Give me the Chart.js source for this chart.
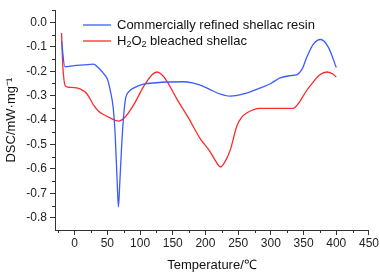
<!DOCTYPE html>
<html>
<head>
<meta charset="utf-8">
<script src="https://cdn.jsdelivr.net/npm/chart.js@4"></script>
<style>
  html, body { margin: 0; padding: 0; background: #fff; }
  #wrap { width: 380px; height: 273px; }
</style>
</head>
<body>
<div id="wrap"><canvas id="dsc" width="380" height="273"></canvas></div>
<script>
// series labels
const seriesNames = ['Commercially refined shellac resin', 'H₂O₂ bleached shellac'];

// commercially refined shellac resin
const tempBlue = [-20, -15, -1, 15, 29, 37, 45, 50, 55, 59, 62, 65, 67, 69, 72, 75, 78, 83, 90, 105, 125, 141, 166, 180, 192, 205, 218, 238, 258, 283, 300, 314, 330, 340, 348, 355, 365, 376, 388, 400];
const dscBlue = [-0.076, -0.181, -0.177, -0.174, -0.171, -0.188, -0.212, -0.232, -0.285, -0.35, -0.46, -0.65, -0.756, -0.66, -0.5, -0.38, -0.31, -0.283, -0.269, -0.253, -0.247, -0.244, -0.243, -0.248, -0.257, -0.272, -0.289, -0.302, -0.293, -0.269, -0.25, -0.227, -0.218, -0.214, -0.19, -0.142, -0.089, -0.07, -0.102, -0.185];

// H2O2 bleached shellac
const tempRed = [-20, -18, -14, -6, 9, 19, 29, 37, 45, 55, 67, 78, 90, 106, 118, 126, 133, 141, 156, 174, 192, 207, 215, 223, 231, 238, 248, 255, 263, 283, 304, 334, 344, 352, 360, 375, 386, 394, 400];
const dscRed = [-0.043, -0.18, -0.26, -0.266, -0.273, -0.293, -0.339, -0.365, -0.378, -0.392, -0.404, -0.385, -0.339, -0.26, -0.215, -0.203, -0.213, -0.24, -0.312, -0.391, -0.476, -0.529, -0.565, -0.592, -0.565, -0.522, -0.424, -0.39, -0.371, -0.352, -0.352, -0.352, -0.325, -0.29, -0.26, -0.214, -0.203, -0.21, -0.224];

// axis ticks
const xTicks = [0, 50, 100, 150, 200, 250, 300, 350, 400, 450];
const yTicks = [-0.8, -0.7, -0.6, -0.5, -0.4, -0.3, -0.2, -0.1, 0.0];

const AXIS = '#333';
const FONT = 'Arial, "Liberation Sans", sans-serif';

const toPoints = (xs, ys) => xs.map((x, i) => ({ x: x, y: ys[i] }));

// small ticks halfway between the labelled ones
const MinorTicks = {
  id: 'minorTicks',
  afterDraw: (chart) => {
    const { ctx, scales } = chart;
    const xs = scales.x, ys = scales.y;
    ctx.save();
    ctx.strokeStyle = AXIS;
    ctx.lineWidth = 1;
    ctx.beginPath();
    for (let v = xs.min + 5; v < xs.max; v += 50) {
      const px = Math.round(xs.getPixelForValue(v)) + 0.5;
      ctx.moveTo(px, ys.bottom);
      ctx.lineTo(px, ys.bottom + 3);
    }
    for (let v = -0.75; v < 0.06; v += 0.1) {
      const py = Math.round(ys.getPixelForValue(v)) + 0.5;
      ctx.moveTo(xs.left, py);
      ctx.lineTo(xs.left - 3, py);
    }
    ctx.stroke();
    ctx.restore();
  }
};

// legend inside the plot, with subscript digits
const InsetLegend = {
  id: 'insetLegend',
  afterDraw: (chart) => {
    const { ctx } = chart;
    const x0 = 83, x1 = 111, tx = 117;
    const rows = [25, 41];
    ctx.save();
    chart.data.datasets.forEach((ds, i) => {
      const y = rows[i];
      ctx.strokeStyle = ds.borderColor;
      ctx.lineWidth = 1.3;
      ctx.beginPath();
      ctx.moveTo(x0, y);
      ctx.lineTo(x1, y);
      ctx.stroke();

      ctx.fillStyle = '#111';
      ctx.textBaseline = 'middle';
      let x = tx;
      for (const ch of ds.label) {
        if (ch === '₂') {
          ctx.font = '9px ' + FONT;
          ctx.fillText('2', x, y + 4);
          x += ctx.measureText('2').width;
        } else {
          ctx.font = '13px ' + FONT;
          ctx.fillText(ch, x, y);
          x += ctx.measureText(ch).width;
        }
      }
    });
    ctx.restore();
  }
};

new Chart(document.getElementById('dsc').getContext('2d'), {
  type: 'line',
  data: {
    datasets: [
      {
        label: seriesNames[0],
        data: toPoints(tempBlue, dscBlue),
        borderColor: '#3b5bff',
        borderWidth: 1.3,
        pointRadius: 0,
        cubicInterpolationMode: 'monotone',
        fill: false
      },
      {
        label: seriesNames[1],
        data: toPoints(tempRed, dscRed),
        borderColor: '#ff2b2b',
        borderWidth: 1.3,
        pointRadius: 0,
        cubicInterpolationMode: 'monotone',
        fill: false
      }
    ]
  },
  options: {
    responsive: false,
    animation: false,
    devicePixelRatio: 1,
    layout: { padding: { top: 1, right: 10, left: 0, bottom: 0 } },
    plugins: {
      legend: { display: false },
      tooltip: { enabled: false }
    },
    scales: {
      x: {
        type: 'linear',
        min: -30,
        max: 450,
        afterBuildTicks: (scale) => { scale.ticks = xTicks.map((v) => ({ value: v })); },
        afterFit: (scale) => { scale.height = 43; },
        grid: { drawOnChartArea: false, tickLength: 5, color: AXIS, tickColor: AXIS },
        border: { display: true, color: AXIS, width: 1 },
        ticks: {
          color: '#222',
          font: { family: FONT, size: 12 },
          padding: 1,
          maxRotation: 0,
          autoSkip: false,
          callback: (v) => String(v)
        },
        title: {
          display: true,
          text: 'Temperature/℃',
          color: '#111',
          font: { family: FONT, size: 13 },
          padding: { top: 0, bottom: 0 }
        }
      },
      y: {
        type: 'linear',
        min: -0.85,
        max: 0.05,
        afterBuildTicks: (scale) => { scale.ticks = yTicks.map((v) => ({ value: v })); },
        afterFit: (scale) => { scale.width = 55; },
        grid: { drawOnChartArea: false, tickLength: 5, color: AXIS, tickColor: AXIS },
        border: { display: true, color: AXIS, width: 1 },
        ticks: {
          color: '#222',
          font: { family: FONT, size: 12 },
          padding: 3,
          autoSkip: false,
          callback: (v) => (Math.abs(v) < 1e-9 ? '0.0' : v.toFixed(1))
        },
        title: {
          display: true,
          text: 'DSC/mW·mg⁻¹',
          color: '#111',
          font: { family: FONT, size: 13 },
          padding: { top: 4, bottom: 0 }
        }
      }
    }
  },
  plugins: [MinorTicks, InsetLegend]
});
</script>
</body>
</html>
